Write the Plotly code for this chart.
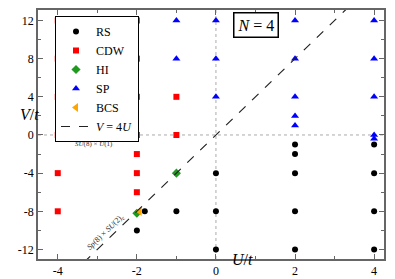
import plotly.graph_objects as go

# Data
rs_U = [-2, -1.8, -1, 0, 0, 0, 2, 2, 2, 2, 2, 4, 4, 4, 4]
rs_V = [-10, -8, -8, -4, -8, -12, -1, -2, -4, -8, -12, -1, -4, -8, -12]

cdw_U = [-4, -4, -4, -4, -4, -4, -2, -2, -2, -2, -2, -2, -2, -1, -1]
cdw_V = [12, 8, 4, 0, -4, -8, 12, 8, 4, 0, -2, -4, -6, 4, 0]

hi_U = [-1, -2]
hi_V = [-4, -8.2]

sp_U = [-1, -1, 0, 0, 0, 2, 2, 2, 2, 2, 4, 4, 4, 4, 4]
sp_V = [12, 8, 12, 8, 4, 12, 8, 4, 2, 1, 12, 8, 4, 0, -0.4]

bcs_U = [-1.93]
bcs_V = [-8]

line_U = [-4, 4]
line_V = [4 * u for u in line_U]

xticks = [-4, -2, 0, 2, 4]
yticks = [-12, -8, -4, 0, 4, 8, 12]

SERIF = "Liberation Serif"

# plot area in pixels (for converting annotation positions)
L, R, T, B = 38, 384, 10, 259
def px(x):
    return (x - L) / (R - L)
def py(y):
    return (B - y) / (B - T)

fig = go.Figure()
fig.add_trace(go.Scatter(x=rs_U, y=rs_V, mode="markers", name="RS",
                         marker=dict(symbol="circle", color="black", size=6)))
fig.add_trace(go.Scatter(x=cdw_U, y=cdw_V, mode="markers", name="CDW",
                         marker=dict(symbol="square", color="#ff0000", size=6)))
fig.add_trace(go.Scatter(x=hi_U, y=hi_V, mode="markers", name="HI",
                         marker=dict(symbol="diamond", color="#1f9a1f", size=7)))
fig.add_trace(go.Scatter(x=sp_U, y=sp_V, mode="markers", name="SP",
                         marker=dict(symbol="triangle-up", color="#0000ff", size=7)))
fig.add_trace(go.Scatter(x=bcs_U, y=bcs_V, mode="markers", name="BCS",
                         marker=dict(symbol="triangle-left", color="#ffa500", size=8)))
fig.add_trace(go.Scatter(x=line_U, y=line_V, mode="lines", name="<i>V</i> = 4<i>U</i>",
                         line=dict(color="#222222", dash="dash", width=1.2)))

axis_common = dict(showgrid=False, zeroline=False, showline=True, linecolor="#666666",
                   linewidth=1.5, mirror="ticks", ticks="inside", ticklen=5,
                   tickcolor="#666666", automargin=False,
                   tickfont=dict(family=SERIF, size=12, color="black"))

fig.update_xaxes(range=[-4.5, 4.25], tickvals=xticks, ticktext=[str(v) for v in xticks],
                 minor=dict(ticks="inside", ticklen=3, dtick=1, tick0=0, tickcolor="#666666"),
                 **axis_common)
fig.update_yaxes(range=[-13, 13.1], tickvals=yticks, ticktext=[str(v) for v in yticks],
                 minor=dict(ticks="inside", ticklen=3, dtick=2, tick0=0, tickcolor="#666666"),
                 **axis_common)

fig.add_shape(type="line", x0=0, x1=0, y0=-13, y1=13.1, xref="x", yref="y",
              line=dict(color="#aaaaaa", width=1, dash="dot"), layer="below")
fig.add_shape(type="line", x0=-4.5, x1=4.25, y0=0, y1=0, xref="x", yref="y",
              line=dict(color="#aaaaaa", width=1, dash="dot"), layer="below")

fig.add_annotation(x=-3.08, y=-0.95, text="<i>SU</i>(8) × <i>U</i>(1)", showarrow=False,
                   font=dict(family=SERIF, size=7, color="#333333"))
fig.add_annotation(x=-2.78, y=-10.2, text="<i>Sp</i>(8) × <i>SU</i>(2)<sub>c</sub>",
                   showarrow=False, textangle=-44,
                   font=dict(family=SERIF, size=8, color="#333333"))
fig.add_annotation(x=px(256), y=py(12), xref="paper", yref="paper", text="<i>N</i> = 4",
                   showarrow=False, bordercolor="black", borderwidth=1.5, bgcolor="white",
                   borderpad=3, font=dict(family=SERIF, size=16, color="black"))
fig.add_annotation(x=px(18), y=py(114), xref="paper", yref="paper", text="<i>V</i>/<i>t</i>",
                   showarrow=False, font=dict(family=SERIF, size=16, color="black"))
fig.add_annotation(x=px(242), y=py(270), xref="paper", yref="paper", text="<i>U</i>/<i>t</i>",
                   showarrow=False, font=dict(family=SERIF, size=16, color="black"))

fig.update_layout(
    width=395, height=279,
    margin=dict(l=38, r=11, t=10, b=20),
    plot_bgcolor="white", paper_bgcolor="white",
    showlegend=True,
    legend=dict(x=px(55), y=py(16), xanchor="left", yanchor="top",
                bgcolor="white", bordercolor="black", borderwidth=1,
                font=dict(family=SERIF, size=12, color="black"),
                itemwidth=30, tracegroupgap=0),
)

fig.write_html("out.html", config={"displayModeBar": False},
               post_script="document.body.style.margin='0';")
